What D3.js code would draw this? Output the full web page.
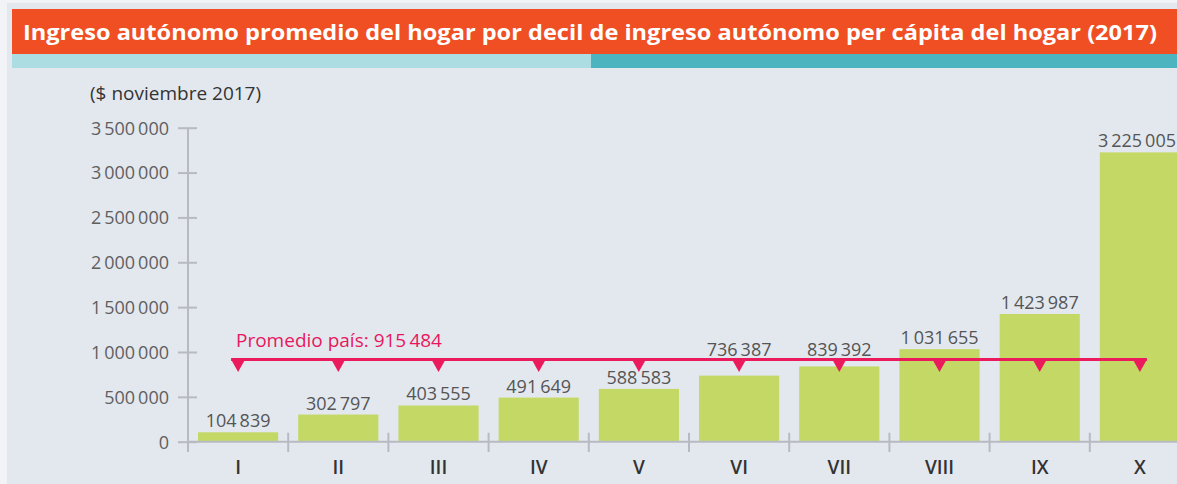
<!DOCTYPE html>
<html>
<head>
<meta charset="utf-8">
<script src="https://cdn.jsdelivr.net/npm/d3@7"></script>
<style>
  html, body { margin: 0; padding: 0; background: #f1f3f6; }
  svg { display: block; }
  text { font-family: "Open Sans", "Noto Sans", sans-serif; }
</style>
</head>
<body>
<svg id="chart" width="1177" height="484"></svg>
<script>
// ---- data ----
const title = "Ingreso autónomo promedio del hogar por decil de ingreso autónomo per cápita del hogar (2017)";
const unitLabel = "($ noviembre 2017)";
const deciles = ["I", "II", "III", "IV", "V", "VI", "VII", "VIII", "IX", "X"];
const ingreso = [104839, 302797, 403555, 491649, 588583, 736387, 839392, 1031655, 1423987, 3225005];
const promedioPais = 915484;
const promedioLabel = "Promedio país: ";
const yTicks = [0, 500000, 1000000, 1500000, 2000000, 2500000, 3000000, 3500000];

// ---- setup ----
const svg = d3.select("#chart");
const W = 1177, H = 484;
const loc = d3.formatLocale({ decimal: ",", thousands: "\u2009", grouping: [3], currency: ["$", ""] });
const fmt = loc.format(",d");

// panel background
svg.append("rect").attr("x", 7).attr("y", 3).attr("width", W - 7).attr("height", H - 3).attr("fill", "#e3e8ef");

// title banner
svg.append("rect").attr("x", 12).attr("y", 9).attr("width", W - 12).attr("height", 45).attr("fill", "#f04e23");
svg.append("rect").attr("x", 12).attr("y", 54).attr("width", 591 - 12).attr("height", 14).attr("fill", "#acdde2");
svg.append("rect").attr("x", 591).attr("y", 54).attr("width", W - 591).attr("height", 14).attr("fill", "#4bb4bf");
svg.append("text").attr("x", 23).attr("y", 40)
  .attr("fill", "#ffffff").attr("font-size", 21).attr("font-weight", 700)
  .attr("textLength", 1134).attr("lengthAdjust", "spacingAndGlyphs")
  .text(title);

// unit label
svg.append("text").attr("x", 90).attr("y", 100)
  .attr("fill", "#333333").attr("font-size", 19).attr("font-weight", 500)
  .text(unitLabel);

// scales
const x = d3.scaleBand().domain(deciles).range([188, 1190]).paddingInner(0.2).paddingOuter(0.1);
const y = d3.scaleLinear().domain([0, 3500000]).range([441.7, 127.7]);

const axisColor = "#b7bbc1";

// y axis
const yAxis = d3.axisLeft(y).tickValues(yTicks).tickFormat(fmt).tickSize(0).tickPadding(19);
const gy = svg.append("g").attr("transform", "translate(188,0)").call(yAxis);
gy.select(".domain").remove();
gy.selectAll(".tick text").attr("fill", "#5f5f5f").attr("font-size", 18)
  .style("font-family", "'Open Sans', sans-serif").attr("dy", "0.35em");
gy.selectAll(".tick").append("line").attr("x1", -10).attr("x2", 9)
  .attr("stroke", axisColor).attr("stroke-width", 2);
svg.append("line").attr("x1", 188).attr("x2", 188).attr("y1", y(3500000)).attr("y2", 452)
  .attr("stroke", axisColor).attr("stroke-width", 2);

// bars
svg.append("g").selectAll("rect").data(deciles).join("rect")
  .attr("x", d => x(d))
  .attr("y", (d, i) => y(ingreso[i]))
  .attr("width", x.bandwidth())
  .attr("height", (d, i) => y(0) - y(ingreso[i]))
  .attr("fill", "#c4d965");

// x axis baseline and boundary ticks
svg.append("line").attr("x1", 188).attr("x2", W).attr("y1", y(0)).attr("y2", y(0))
  .attr("stroke", axisColor).attr("stroke-width", 2);
const gap = x.step() - x.bandwidth();
svg.append("g").selectAll("line").data(deciles.slice(1)).join("line")
  .attr("x1", d => x(d) - gap / 2).attr("x2", d => x(d) - gap / 2)
  .attr("y1", y(0) - 9).attr("y2", 452)
  .attr("stroke", axisColor).attr("stroke-width", 2);

// category labels
const xAxis = d3.axisBottom(x).tickSize(0).tickPadding(0);
const gx = svg.append("g").attr("transform", "translate(0,474)").call(xAxis);
gx.select(".domain").remove();
gx.selectAll(".tick text").attr("dy", 0).attr("fill", "#333333")
  .attr("font-size", 19).attr("font-weight", 600)
  .style("font-family", "'Open Sans', sans-serif");

// average line
const lineY = y(promedioPais);
const cx = d => x(d) + x.bandwidth() / 2;
svg.append("line")
  .attr("x1", cx(deciles[0]) - 7).attr("x2", cx(deciles[deciles.length - 1]) + 7)
  .attr("y1", lineY).attr("y2", lineY)
  .attr("stroke", "#ea1a5c").attr("stroke-width", 3);
svg.append("g").selectAll("path").data(deciles).join("path")
  .attr("d", d => `M${cx(d) - 7},${lineY} L${cx(d) + 7},${lineY} L${cx(d)},${lineY + 12.5} Z`)
  .attr("fill", "#ea1a5c");
svg.append("text").attr("x", 236).attr("y", 347)
  .attr("fill", "#e8175d").attr("font-size", 19)
  .text(promedioLabel + fmt(promedioPais));

// value labels
const vl = svg.append("g").selectAll("text").data(deciles).join("text")
  .attr("x", d => cx(d))
  .attr("y", (d, i) => {
    let b = y(ingreso[i]) - 5;
    if (b > lineY - 3 && b - 13 < lineY + 11) b = lineY - 3.5;
    return b;
  })
  .attr("text-anchor", "middle")
  .attr("fill", "#555555").attr("font-size", 18)
  .text((d, i) => fmt(ingreso[i]));
// keep labels inside the picture
vl.each(function () {
  const t = d3.select(this);
  const w = this.getComputedTextLength();
  const xc = +t.attr("x");
  if (xc + w / 2 > W - 1) t.attr("x", W - 1 - w / 2);
});
</script>
</body>
</html>
